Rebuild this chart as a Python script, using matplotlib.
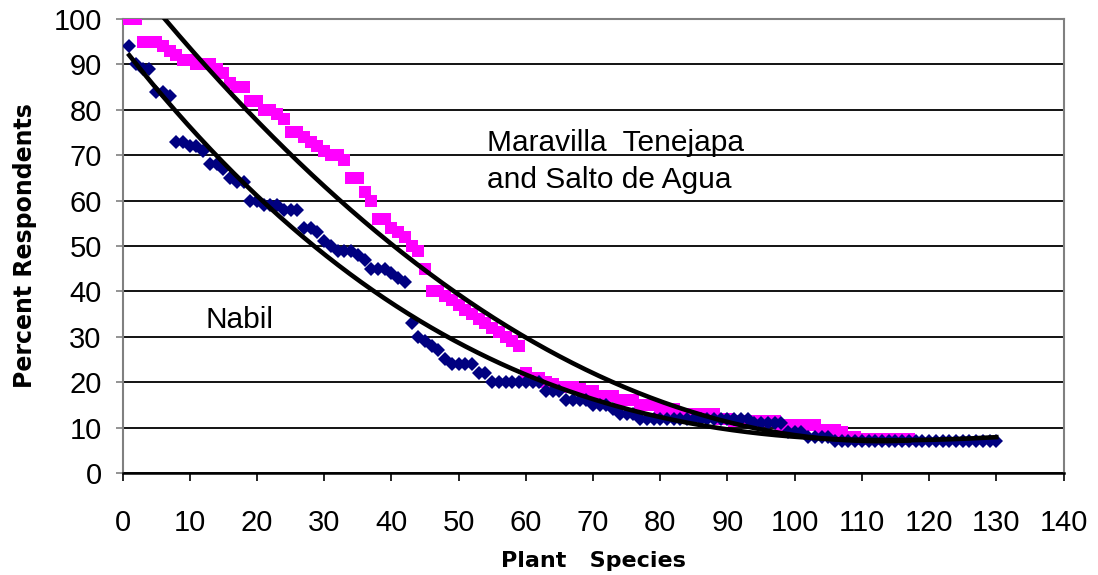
import numpy as np
import matplotlib
matplotlib.use("Agg")
import matplotlib.pyplot as plt

plt.rcParams['font.family'] = ['Liberation Sans', 'DejaVu Sans']

# Maravilla Tenejapa and Salto de Agua (magenta squares), species 1..117
maravilla = [100, 100, 95, 95, 95, 94, 93, 92, 91, 91,
             90, 90, 90, 89, 88, 86, 85, 85, 82, 82,
             80, 80, 79, 78, 75, 75, 74, 73, 72, 71,
             70, 70, 69, 65, 65, 62, 60, 56, 56, 54,
             53, 52, 50, 49, 45, 40, 40, 39, 38, 37,
             36, 35, 34, 33, 32, 31, 30, 29, 28, 22,
             21, 21, 20, 19.5, 19, 19, 19, 18.5, 18, 18,
             17, 17, 17, 16, 16, 16, 15, 15, 15, 14,
             14, 14, 13, 13, 13, 13, 13, 13, 12, 12,
             11.5, 11.5, 11.5, 11.5, 11.5, 11.5, 11.5, 10.5, 10.5, 10.5,
             10.5, 10.5, 10.5, 9.5, 9.5, 9.5, 9, 8, 8, 7.5,
             7.5, 7.5, 7.5, 7.5, 7.5, 7.5, 7.5]

# Nabil (navy diamonds), species 1..130
nabil = [94, 90, 89, 89, 84, 84, 83, 73, 73, 72,
         72, 71, 68, 68, 67, 65, 64, 64, 60, 60,
         59, 59, 59, 58, 58, 58, 54, 54, 53, 51,
         50, 49, 49, 49, 48, 47, 45, 45, 45, 44,
         43, 42, 33, 30, 29, 28, 27, 25, 24, 24,
         24, 24, 22, 22, 20, 20, 20, 20, 20, 20,
         20, 20, 18, 18, 18, 16, 16, 16, 16, 15,
         15, 15, 14, 13, 13, 13, 12, 12, 12, 12,
         12, 12, 12, 12, 12, 12, 12, 12, 12, 12,
         12, 12, 12, 11, 11, 11, 11, 11, 9, 9,
         9, 8, 8, 8, 8, 7, 7, 7, 7, 7,
         7, 7, 7, 7, 7, 7, 7, 7, 7, 7,
         7, 7, 7, 7, 7, 7, 7, 7, 7, 7]

x_mar = np.arange(1, len(maravilla) + 1)
x_nab = np.arange(1, len(nabil) + 1)

# polynomial trend lines fitted to each series
fit_mar = np.poly1d(np.polyfit(x_mar, maravilla, 2))
fit_nab = np.poly1d(np.polyfit(x_nab, nabil, 3))

fig = plt.figure(figsize=(10.98, 5.75), dpi=100)
ax = fig.add_axes([0.1116, 0.1774, 0.8570, 0.7896])

ax.plot(x_mar, maravilla, linestyle='none', marker='s', markersize=9,
        color='#FF00FF', markeredgewidth=0, zorder=3)
ax.plot(x_nab, nabil, linestyle='none', marker='D', markersize=7,
        color='#000080', markeredgewidth=0, zorder=3)

xs_m = np.linspace(1, len(maravilla), 300)
xs_n = np.linspace(1, len(nabil), 300)
ax.plot(xs_m, fit_mar(xs_m), color='black', linewidth=3.3, zorder=4)
ax.plot(xs_n, fit_nab(xs_n), color='black', linewidth=3.3, zorder=4)

ax.set_xlim(0, 140)
ax.set_ylim(0, 100)
ax.set_xticks(range(0, 141, 10))
ax.set_yticks(range(0, 101, 10))
ax.yaxis.grid(True, color='black', linewidth=1.3)
ax.set_axisbelow(True)

for side in ['left', 'right', 'top']:
    ax.spines[side].set_color('#808080')
    ax.spines[side].set_linewidth(1.5)
ax.spines['bottom'].set_color('black')
ax.spines['bottom'].set_linewidth(1.8)

ax.tick_params(axis='x', direction='out', length=6, width=1.2, pad=20,
               labelsize=21, color='black')
ax.tick_params(axis='y', direction='out', length=5, width=1.2, pad=10,
               labelsize=21, color='#808080')

ax.set_xlabel('Plant   Species', family='DejaVu Sans', fontweight='bold',
              fontsize=16, labelpad=10)
ax.set_ylabel('Percent Respondents', family='DejaVu Sans', fontweight='bold',
              fontsize=17, labelpad=12)

ax.text(54.2, 72.7, 'Maravilla  Tenejapa', fontsize=21.5, va='center', ha='left')
ax.text(54.2, 64.5, 'and Salto de Agua', fontsize=21.5, va='center', ha='left')
ax.text(12.4, 33.7, 'Nabil', fontsize=21.5, va='center', ha='left')

fig.savefig('out.png', dpi=100)
